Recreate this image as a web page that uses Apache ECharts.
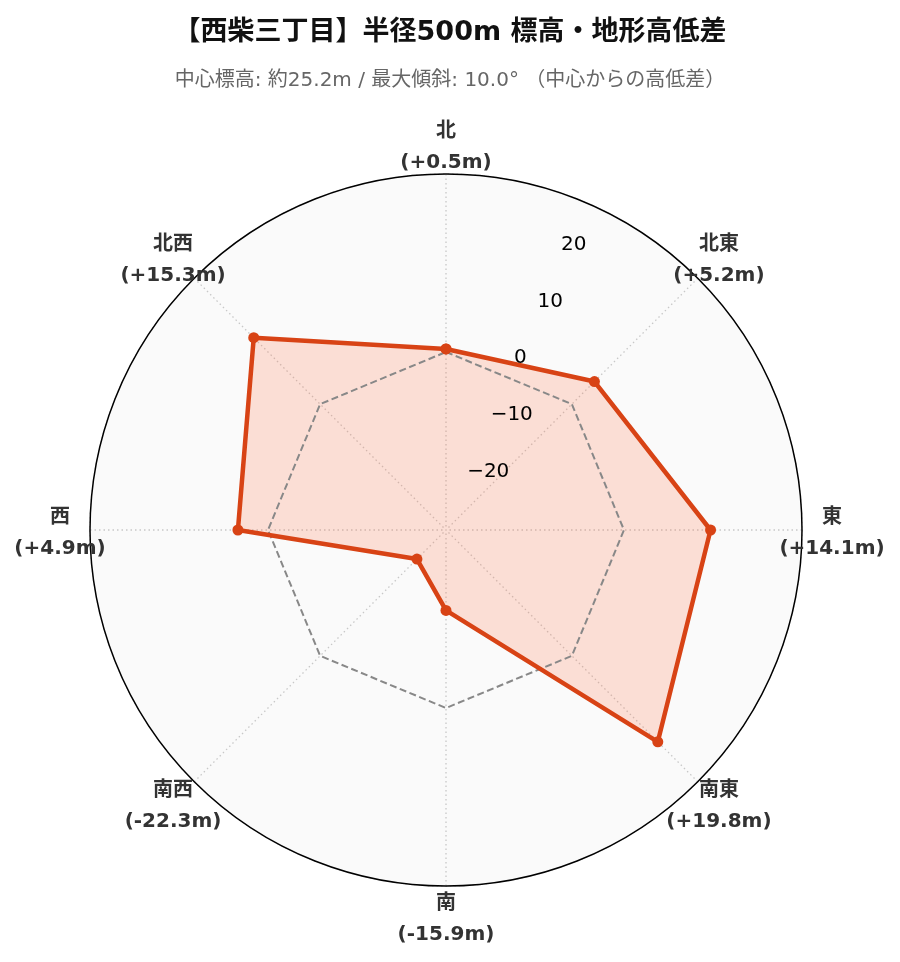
<!DOCTYPE html>
<html><head><meta charset="utf-8">
<script src="https://cdn.jsdelivr.net/npm/echarts@6/dist/echarts.min.js"></script>
<style>html,body{margin:0;padding:0;background:#fff}#c{width:900px;height:962px}</style>
</head><body><div id="c"></div>
<script>
// ---- data ----
const directions = ['北', '北東', '東', '南東', '南', '南西', '西', '北西'];
const bearings = [0, 45, 90, 135, 180, 225, 270, 315];   // compass bearing of each direction (deg)
const elevDiff = [0.5, 5.2, 14.1, 19.8, -15.9, -22.3, 4.9, 15.3];
const baseline = [0, 0, 0, 0, 0, 0, 0, 0];
const radiusMin = -29;
const radiusMax = 29;
const titleText = '【西柴三丁目】半径500m 標高・地形高低差';
const subtitleText = '中心標高: 約25.2m / 最大傾斜: 10.0° （中心からの高低差）';

const FONT = "'DejaVu Sans', 'Noto Sans CJK JP', sans-serif";
const CENTER = [446, 530];
const R = 356;

function closed(vals) {
  const d = vals.map((v, i) => [v, bearings[i]]);
  d.push([vals[0], 360]);
  return d;
}
function fmtDiff(v) {
  return (v >= 0 ? '+' : '-') + Math.abs(v).toFixed(1);
}
const angleCommon = {type: 'value', min: 0, max: 360, interval: 45, startAngle: 90, clockwise: true};

const chart = echarts.init(document.getElementById('c'), null, {renderer: 'canvas'});
chart.setOption({
  backgroundColor: '#ffffff',
  animation: false,
  textStyle: {fontFamily: FONT},
  title: [
    {text: titleText, left: 'center', top: 12,
     textStyle: {fontSize: 27, fontWeight: 'bold', color: '#111111', fontFamily: FONT, lineHeight: 32}},
    {text: subtitleText, left: 'center', top: 64,
     textStyle: {fontSize: 20, fontWeight: 'normal', color: '#666666', fontFamily: FONT, lineHeight: 24}}
  ],
  polar: [
    {center: CENTER, radius: R},
    {center: CENTER, radius: R},
    {center: CENTER, radius: 386}
  ],
  angleAxis: [
    Object.assign({polarIndex: 0,
     axisLine: {show: true, lineStyle: {color: '#000000', width: 1.5}},
     axisTick: {show: false}, axisLabel: {show: false},
     splitLine: {show: true, lineStyle: {color: '#c8c8c8', width: 1.3, type: [1.5, 3]}}}, angleCommon),
    {polarIndex: 1, type: 'value', min: 0, max: 360, startAngle: 67.5, clockwise: true,
     axisLine: {show: false}, axisTick: {show: false}, axisLabel: {show: false}, splitLine: {show: false}},
    Object.assign({polarIndex: 2,
     axisLine: {show: false}, axisTick: {show: false}, axisLabel: {show: false}, splitLine: {show: false}}, angleCommon)
  ],
  radiusAxis: [
    {polarIndex: 0, type: 'value', min: radiusMin, max: radiusMax, splitNumber: 6,
     axisLine: {show: false}, axisTick: {show: false}, axisLabel: {show: false},
     splitLine: {show: true, lineStyle: {color: '#c8c8c8', width: 1.3, type: [1.5, 3]}},
     splitArea: {show: true, areaStyle: {color: ['#fafafa']}}},
    {polarIndex: 1, type: 'value', min: radiusMin, max: radiusMax, splitNumber: 6,
     axisLine: {show: false}, axisTick: {show: false}, splitLine: {show: false},
     axisLabel: {show: true, showMinLabel: false, showMaxLabel: false, margin: 0,
       align: 'left', verticalAlign: 'bottom', fontSize: 20, lineHeight: 15, color: '#000000', fontFamily: FONT,
       formatter: v => (v < 0 ? '\u2212' : '') + Math.abs(v)}, z: 5},
    {polarIndex: 2, type: 'value', min: 0, max: 1,
     axisLine: {show: false}, axisTick: {show: false}, axisLabel: {show: false}, splitLine: {show: false}}
  ],
  series: [
    {name: '高低差塗り', type: 'line', coordinateSystem: 'polar', polarIndex: 0,
     data: closed(elevDiff), symbol: 'none', z: 2,
     lineStyle: {width: 0, opacity: 0},
     areaStyle: {color: 'rgba(255,112,67,0.2)', opacity: 1, origin: 'start'}},
    {name: '基準', type: 'line', coordinateSystem: 'polar', polarIndex: 0,
     data: closed(baseline), symbol: 'none', z: 3,
     lineStyle: {color: '#888888', width: 2, type: [7, 3.5]}},
    {name: '高低差', type: 'line', coordinateSystem: 'polar', polarIndex: 0,
     data: closed(elevDiff), symbol: 'circle', symbolSize: 11, z: 4,
     itemStyle: {color: '#D84315'},
     lineStyle: {color: '#D84315', width: 4.5}},
    {name: 'labels', type: 'scatter', coordinateSystem: 'polar', polarIndex: 2, clip: false, z: 6,
     data: directions.map((d, i) => [1, bearings[i]]), symbolSize: 1,
     itemStyle: {color: 'rgba(0,0,0,0)', opacity: 1},
     label: {show: true, position: 'inside', offset: [0, 3], fontSize: 20, fontWeight: 'bold', color: '#333333',
       textBorderWidth: 0, opacity: 1,
       fontFamily: FONT, lineHeight: 31, align: 'center', verticalAlign: 'middle',
       formatter: p => directions[p.dataIndex] + '\n(' + fmtDiff(elevDiff[p.dataIndex]) + 'm)'}}
  ]
});
</script>
</body></html>
